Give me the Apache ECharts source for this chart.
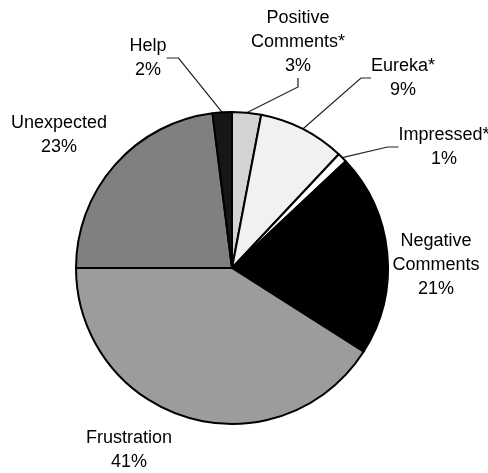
<!DOCTYPE html>
<html>
<head>
<meta charset="utf-8">
<style>
  html, body { margin: 0; padding: 0; background: #fff; }
  #chart { width: 488px; height: 473px; }
</style>
<script src="https://cdn.jsdelivr.net/npm/echarts@6/dist/echarts.min.js"></script>
</head>
<body>
<div id="chart"></div>
<script>
// Share of observed reactions, clockwise from 12 o'clock
const categories = ['Positive\nComments*', 'Eureka*', 'Impressed*', 'Negative\nComments', 'Frustration', 'Unexpected', 'Help'];
const shares = [3, 9, 1, 21, 41, 23, 2];
const sliceColors = ['#d3d3d3', '#f1f1f1', '#ffffff', '#000000', '#9c9c9c', '#808080', '#161616'];

// Where each label sits (centre of the text block) and whether it gets a leader line
const labelSpots = [
  { x: 298, y: 42, line: true, len2: 9 },
  { x: 403, y: 78, line: true, len2: 10 },
  { x: 444, y: 147, line: true, len2: 11 },
  { x: 436, y: 265, line: false },
  { x: 129, y: 450, line: false },
  { x: 59, y: 135, line: false },
  { x: 148, y: 58, line: true, len2: 12 }
];

const chart = echarts.init(document.getElementById('chart'));

const pieData = categories.map((name, i) => ({
  name: name,
  value: shares[i],
  itemStyle: { color: sliceColors[i] },
  labelLine: { show: labelSpots[i].line, length2: labelSpots[i].len2 || 0 }
}));

chart.setOption({
  animation: false,
  backgroundColor: '#ffffff',
  series: [{
    type: 'pie',
    center: [232, 268],
    radius: [0, 156],
    startAngle: 90,
    clockwise: true,
    avoidLabelOverlap: false,
    silent: true,
    data: pieData,
    itemStyle: { borderColor: '#000000', borderWidth: 2 },
    label: {
      show: true,
      formatter: p => p.name + '\n' + p.value + '%',
      fontFamily: 'Liberation Sans, Arial, Helvetica, sans-serif',
      fontSize: 18,
      lineHeight: 24,
      color: '#000000',
      align: 'center'
    },
    labelLine: {
      show: true,
      length: 10,
      length2: 10,
      minTurnAngle: 0,
      lineStyle: { color: '#222222', width: 1.2 }
    },
    labelLayout: function (params) {
      const spot = labelSpots[params.dataIndex];
      return { x: spot.x, y: spot.y, align: 'center', verticalAlign: 'middle' };
    }
  }]
});
</script>
</body>
</html>
